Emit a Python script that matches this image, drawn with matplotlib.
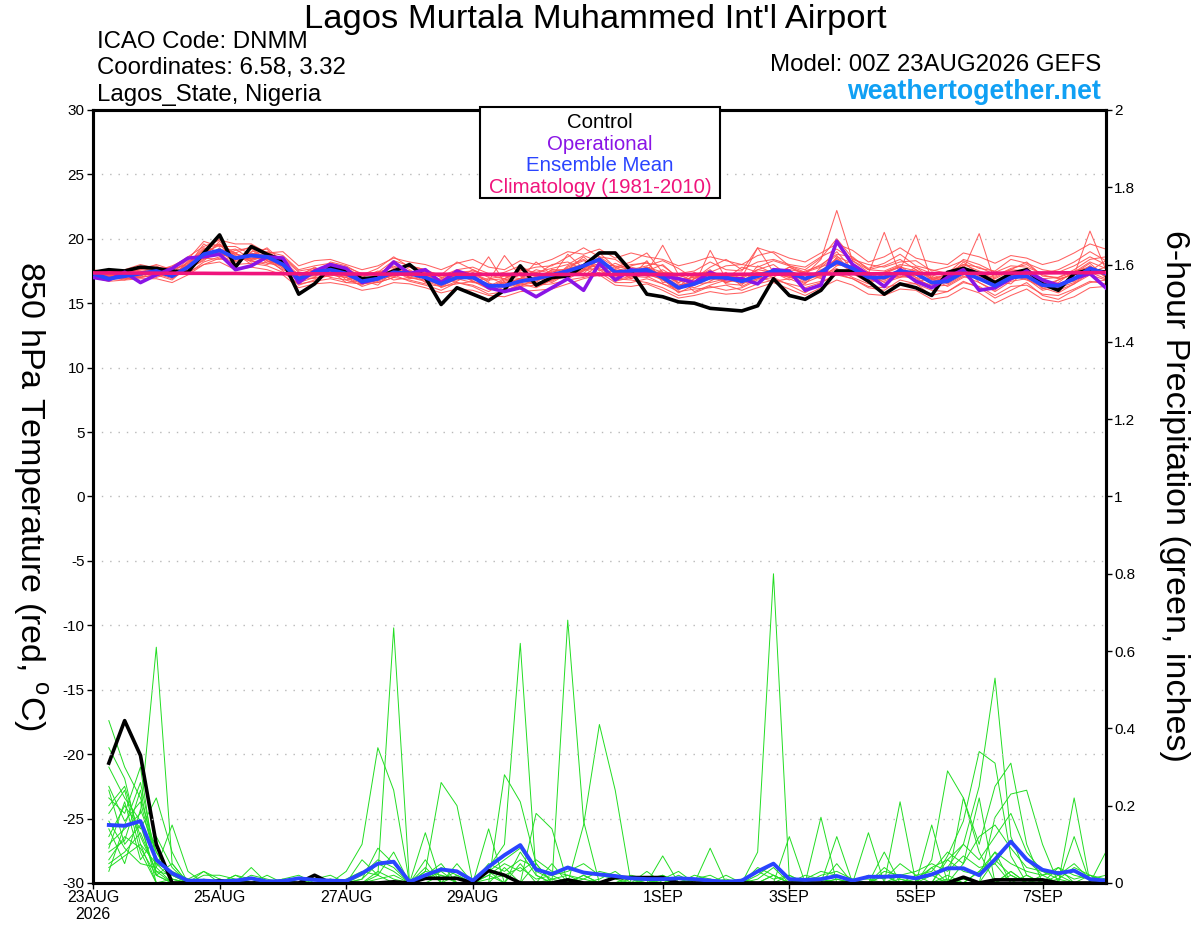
import numpy as np
import matplotlib
matplotlib.use("Agg")
import matplotlib.pyplot as plt
from matplotlib.patches import Rectangle

plt.rcParams['font.family'] = ['Liberation Sans', 'DejaVu Sans']
plt.rcParams['mathtext.fontset'] = 'custom'
plt.rcParams['mathtext.rm'] = 'Liberation Sans'
plt.rcParams['axes.unicode_minus'] = False

# forecast hours, 6-hourly out to 384 h
hours = np.arange(65) * 6
precip_hours = hours[1:]

tick_hours = [0, 48, 96, 144, 216, 264, 312, 360]
tick_labels = ['23AUG\n2026', '25AUG', '27AUG', '29AUG', '1SEP', '3SEP', '5SEP', '7SEP']

# 850 hPa temperature (C)
control_t = [17.4, 17.6, 17.5, 17.8, 17.7, 17.5, 17.4, 18.9, 20.3, 17.8, 19.4, 18.8, 18.3,
             15.7, 16.5, 17.8, 17.5, 16.9, 17.0, 17.5, 18.0, 17.0, 14.9, 16.2, 15.7, 15.2,
             16.0, 17.9, 16.4, 17.0, 17.1, 17.9, 18.9, 18.9, 17.5, 15.7, 15.5, 15.1, 15.0,
             14.6, 14.5, 14.4, 14.8, 16.9, 15.6, 15.3, 16.0, 17.5, 17.5, 16.7, 15.7, 16.5,
             16.2, 15.6, 17.4, 17.7, 17.3, 16.6, 17.3, 17.6, 16.5, 16.0, 17.3, 17.6, 17.4]
oper_t = [17.0, 16.8, 17.4, 16.6, 17.2, 17.7, 18.5, 18.6, 18.8, 17.6, 17.9, 18.6, 18.5,
          16.6, 17.5, 18.0, 17.7, 16.6, 16.9, 18.2, 17.3, 17.6, 16.6, 17.5, 17.1, 16.2,
          15.9, 16.2, 15.5, 16.2, 16.9, 16.0, 18.1, 16.8, 17.6, 17.4, 17.1, 16.9, 16.6,
          17.4, 16.9, 16.9, 16.5, 17.6, 17.5, 16.0, 16.4, 19.8, 18.0, 17.2, 16.3, 17.6,
          16.7, 16.2, 17.0, 17.6, 16.0, 16.2, 16.9, 17.5, 16.8, 16.4, 16.9, 17.3, 16.2]
mean_t = [17.3, 16.9, 17.1, 17.3, 17.5, 17.1, 17.8, 18.8, 19.1, 18.5, 18.7, 18.6, 18.0,
          16.9, 17.4, 17.6, 17.3, 16.7, 16.9, 17.4, 17.3, 17.0, 16.5, 17.0, 17.0, 16.35,
          16.35, 16.7, 16.9, 17.2, 17.5, 17.9, 18.4, 17.4, 17.5, 17.6, 17.0, 16.2, 16.5,
          17.0, 17.0, 16.7, 17.1, 17.5, 17.4, 16.9, 17.4, 18.2, 17.7, 17.0, 17.0, 17.5,
          17.3, 16.6, 16.7, 17.4, 16.9, 16.35, 17.0, 17.1, 16.4, 16.35, 16.9, 17.7, 17.3]
clim_t = [17.35, 17.35, 17.34, 17.34, 17.33, 17.33, 17.32, 17.32, 17.31, 17.31, 17.30, 17.30, 17.29,
          17.29, 17.28, 17.28, 17.27, 17.27, 17.26, 17.26, 17.26, 17.25, 17.25, 17.25, 17.24, 17.24,
          17.24, 17.24, 17.23, 17.23, 17.23, 17.23, 17.23, 17.23, 17.23, 17.23, 17.23, 17.23, 17.24,
          17.24, 17.24, 17.25, 17.25, 17.25, 17.26, 17.26, 17.27, 17.27, 17.28, 17.28, 17.29, 17.29,
          17.30, 17.30, 17.31, 17.32, 17.32, 17.33, 17.34, 17.34, 17.35, 17.36, 17.36, 17.37, 17.38]

members_t = [
    [17.2, 17.0, 17.3, 17.6, 17.4, 17.2, 18.0, 19.2, 19.6, 18.2, 18.9, 18.3, 17.6,
     17.1, 17.8, 17.2, 17.0, 16.5, 17.3, 17.9, 17.0, 16.8, 16.9, 17.5, 16.7, 16.2,
     16.8, 17.2, 17.4, 16.9, 17.8, 18.3, 17.9, 17.1, 17.9, 18.2, 16.8, 16.0, 16.9,
     17.5, 16.6, 17.0, 17.6, 18.0, 17.1, 16.5, 17.8, 18.7, 17.3, 16.6, 17.4, 17.9,
     17.0, 16.2, 17.1, 17.9, 16.6, 16.0, 17.4, 17.5, 16.1, 16.8, 17.3, 18.1, 17.0],
    [17.4, 16.8, 17.0, 17.1, 17.8, 17.5, 17.6, 18.4, 19.0, 19.2, 18.4, 18.9, 18.4,
     16.6, 17.0, 18.0, 17.6, 16.9, 16.6, 17.0, 17.8, 17.3, 16.2, 16.7, 17.4, 16.6,
     16.0, 16.4, 16.6, 17.5, 17.2, 17.6, 18.9, 17.8, 17.2, 17.3, 17.4, 16.5, 16.2,
     16.7, 17.4, 16.3, 16.9, 17.2, 17.8, 17.3, 16.9, 17.9, 18.3, 17.4, 16.6, 17.0,
     17.8, 16.9, 16.3, 17.0, 17.3, 16.7, 16.5, 17.6, 16.8, 16.0, 16.5, 17.4, 17.8],
    [17.1, 17.2, 16.9, 17.0, 17.2, 16.8, 17.9, 19.6, 18.8, 18.0, 19.0, 19.2, 17.8,
     17.3, 17.6, 17.0, 16.8, 17.2, 17.4, 16.8, 17.0, 17.5, 17.0, 16.6, 16.4, 15.9,
     16.7, 17.2, 16.3, 16.8, 17.9, 18.4, 17.6, 16.8, 17.1, 17.0, 17.6, 16.9, 15.9,
     16.4, 16.8, 17.2, 17.0, 16.7, 16.9, 16.4, 16.7, 18.6, 18.1, 17.2, 16.4, 17.3,
     16.8, 16.4, 17.2, 17.6, 17.1, 16.3, 16.8, 17.3, 16.7, 16.2, 16.6, 17.5, 18.3],
    [17.5, 17.1, 17.4, 17.3, 17.6, 17.0, 18.3, 18.6, 19.8, 18.7, 18.3, 18.0, 18.5,
     17.4, 17.1, 17.9, 16.8, 16.4, 17.2, 17.6, 17.5, 16.6, 16.8, 16.9, 17.6, 17.0,
     16.5, 16.9, 17.6, 17.3, 16.9, 17.5, 18.4, 16.7, 17.0, 18.3, 16.6, 16.8, 17.0,
     17.6, 16.5, 16.4, 17.9, 17.3, 17.0, 17.5, 17.9, 19.0, 17.6, 17.4, 16.8, 17.6,
     17.4, 17.1, 16.5, 17.2, 17.4, 16.7, 17.2, 16.8, 16.3, 16.6, 17.5, 17.8, 17.2],
    [17.0, 17.3, 17.2, 17.5, 17.1, 17.4, 17.5, 18.9, 18.7, 19.1, 19.3, 18.3, 17.9,
     16.8, 17.5, 17.3, 17.6, 16.8, 16.4, 17.5, 16.9, 17.1, 16.5, 17.2, 16.9, 16.5,
     16.2, 16.5, 16.7, 17.6, 17.4, 17.1, 18.0, 17.9, 17.6, 17.2, 16.9, 15.8, 16.4,
     16.9, 17.2, 16.9, 16.6, 17.7, 17.5, 16.8, 17.2, 17.7, 17.0, 16.5, 17.1, 17.0,
     17.2, 16.5, 16.9, 17.5, 16.9, 16.2, 17.1, 16.9, 16.0, 16.3, 16.9, 17.4, 16.9],
    [17.3, 16.9, 17.2, 17.4, 17.3, 17.6, 18.0, 19.1, 20.0, 18.4, 18.5, 18.8, 18.1,
     17.0, 17.3, 17.8, 17.1, 17.0, 17.5, 17.1, 17.6, 16.9, 16.6, 17.3, 16.8, 16.9,
     17.1, 16.9, 18.2, 17.2, 17.6, 18.6, 17.5, 18.1, 17.6, 17.4, 19.5, 17.2, 16.7,
     17.3, 16.9, 17.8, 17.4, 17.0, 17.8, 17.2, 18.4, 22.2, 18.3, 17.6, 17.9, 18.4,
     17.6, 16.8, 17.3, 18.0, 17.5, 17.1, 17.7, 18.0, 17.2, 16.9, 17.2, 20.6, 17.6],
    [17.4, 17.2, 17.0, 17.2, 17.3, 16.9, 17.7, 18.3, 19.3, 18.0, 18.9, 18.5, 17.5,
     16.4, 16.8, 17.2, 17.0, 16.3, 16.7, 17.2, 16.7, 16.4, 16.0, 16.6, 16.3, 15.7,
     15.9, 16.5, 16.2, 16.8, 17.1, 17.5, 18.1, 16.9, 16.8, 16.6, 16.2, 15.6, 15.8,
     16.3, 16.0, 16.2, 16.8, 17.0, 16.4, 15.8, 16.6, 17.3, 16.9, 16.2, 16.0, 16.8,
     16.5, 15.6, 15.9, 16.7, 16.2, 15.4, 16.0, 16.6, 15.6, 15.3, 16.0, 16.6, 16.8],
    [17.2, 17.0, 17.5, 17.8, 17.9, 17.3, 18.4, 19.8, 19.4, 19.4, 18.8, 19.0, 18.7,
     17.6, 17.9, 18.1, 17.8, 17.3, 17.4, 18.3, 17.9, 17.6, 17.1, 17.6, 17.8, 17.3,
     17.2, 17.5, 17.8, 17.9, 18.6, 19.3, 18.6, 17.8, 18.2, 18.9, 17.4, 17.3, 17.5,
     18.2, 17.6, 17.5, 19.3, 18.9, 17.9, 17.6, 18.5, 20.0, 18.5, 17.7, 18.1, 18.8,
     17.9, 17.6, 17.3, 18.4, 18.0, 17.4, 17.9, 17.8, 17.3, 17.6, 18.2, 19.0, 18.3],
    [17.3, 17.1, 17.1, 17.2, 17.5, 17.2, 17.3, 18.2, 18.6, 18.9, 18.0, 18.2, 18.2,
     16.9, 17.2, 17.4, 17.2, 16.6, 17.1, 17.3, 17.1, 17.4, 16.4, 16.9, 17.0, 16.3,
     16.6, 16.9, 17.0, 16.6, 17.3, 17.8, 18.3, 17.3, 17.4, 17.8, 17.1, 16.4, 16.6,
     17.1, 17.3, 16.6, 17.3, 17.4, 17.2, 16.9, 17.5, 18.0, 17.8, 16.9, 16.7, 17.3,
     17.3, 16.5, 16.6, 17.4, 17.0, 16.5, 16.9, 17.2, 16.6, 16.4, 16.8, 17.6, 17.5],
    [17.1, 16.8, 17.3, 17.0, 17.5, 17.3, 17.6, 18.7, 18.9, 18.3, 19.2, 18.1, 17.9,
     17.2, 17.4, 17.5, 16.6, 16.8, 16.8, 17.7, 17.2, 17.1, 16.7, 16.8, 17.1, 16.4,
     16.3, 16.6, 17.0, 17.1, 18.8, 17.7, 17.1, 17.6, 16.9, 17.6, 17.3, 16.6, 17.4,
     16.8, 17.0, 17.2, 17.1, 17.5, 17.0, 17.0, 17.2, 18.2, 17.4, 17.3, 20.5, 17.2,
     17.6, 16.9, 17.2, 17.6, 20.4, 16.6, 16.9, 17.7, 16.9, 16.2, 17.2, 17.9, 17.1],
    [17.2, 17.1, 17.2, 17.4, 17.0, 17.4, 17.9, 18.5, 18.4, 18.6, 18.7, 19.3, 18.2,
     17.0, 17.6, 17.7, 17.3, 16.7, 17.0, 17.1, 17.4, 16.9, 16.8, 17.0, 17.3, 16.8,
     16.9, 16.3, 16.9, 17.0, 17.5, 17.3, 18.5, 17.2, 17.3, 17.5, 17.1, 16.3, 17.2,
     17.0, 16.7, 16.8, 17.3, 17.6, 17.3, 16.7, 17.6, 18.0, 17.9, 16.9, 17.2, 17.5,
     17.0, 16.7, 16.9, 17.3, 16.8, 16.6, 17.3, 17.2, 16.5, 16.5, 16.7, 17.9, 17.0],
    [17.4, 17.0, 17.0, 17.4, 17.6, 17.0, 18.2, 18.9, 19.5, 18.6, 18.4, 18.6, 17.7,
     16.9, 17.5, 17.6, 17.5, 16.9, 17.0, 17.5, 17.3, 17.2, 16.7, 17.2, 16.9, 18.6,
     16.6, 16.8, 17.0, 17.4, 17.7, 18.0, 18.2, 17.5, 17.8, 17.5, 18.0, 16.9, 16.4,
     19.1, 16.9, 17.0, 19.3, 17.4, 17.5, 17.0, 17.5, 18.5, 17.5, 17.1, 17.0, 17.6,
     20.3, 16.8, 17.0, 18.2, 17.2, 16.9, 17.5, 17.6, 16.8, 16.4, 16.8, 17.7, 17.4],
    [17.3, 17.2, 17.3, 17.1, 17.7, 17.1, 17.4, 19.0, 18.9, 18.4, 18.5, 18.4, 18.3,
     17.2, 17.0, 17.1, 17.4, 16.9, 16.9, 17.6, 17.0, 16.7, 16.3, 16.9, 16.6, 16.5,
     16.4, 16.6, 17.1, 17.3, 17.0, 17.6, 17.7, 17.0, 17.5, 17.1, 16.5, 16.1, 16.5,
     16.6, 16.9, 16.5, 16.9, 17.2, 17.1, 16.6, 17.1, 17.6, 17.5, 16.8, 16.9, 17.1,
     16.9, 16.3, 16.4, 17.1, 16.6, 15.9, 16.7, 16.9, 16.2, 15.8, 16.5, 17.2, 16.8],
    [17.1, 17.0, 16.8, 17.3, 17.2, 17.2, 17.7, 18.5, 19.2, 18.9, 18.2, 18.4, 18.0,
     17.1, 17.3, 17.4, 17.2, 16.9, 17.1, 18.2, 17.4, 17.3, 16.6, 17.4, 17.2, 16.7,
     18.7, 17.1, 16.9, 17.6, 17.6, 18.0, 17.3, 17.6, 17.4, 17.8, 17.4, 16.6, 17.1,
     16.9, 17.3, 17.1, 17.4, 17.3, 17.6, 17.4, 17.8, 18.3, 17.8, 17.2, 17.4, 17.8,
     17.5, 17.2, 16.8, 17.7, 17.3, 17.0, 17.6, 17.5, 16.9, 17.0, 17.4, 18.2, 17.7],
    [17.6, 17.4, 17.6, 18.0, 17.7, 17.8, 18.6, 19.4, 19.9, 19.6, 19.6, 18.9, 19.0,
     17.9, 18.3, 18.4, 18.0, 17.6, 17.9, 18.5, 18.2, 18.0, 17.6, 18.1, 18.4, 17.8,
     17.6, 18.3, 18.0, 18.4, 19.0, 18.8, 19.2, 18.5, 18.9, 18.6, 18.4, 17.9, 18.2,
     18.6, 18.3, 18.0, 18.7, 19.0, 18.5, 18.2, 18.9, 19.6, 19.1, 18.2, 18.6, 19.3,
     18.5, 18.2, 18.0, 18.9, 18.6, 18.1, 18.7, 18.5, 18.0, 18.3, 18.9, 19.6, 19.2],
    [17.0, 16.7, 16.8, 16.9, 16.9, 16.6, 17.2, 18.0, 18.2, 17.6, 17.8, 17.6, 17.2,
     16.2, 16.5, 16.6, 16.4, 16.0, 16.2, 16.6, 16.5, 16.2, 15.8, 16.1, 16.0, 15.6,
     15.5, 15.9, 16.0, 16.1, 16.5, 16.9, 17.2, 16.4, 16.3, 16.5, 16.0, 15.4, 15.6,
     15.9, 15.7, 15.8, 16.2, 16.6, 16.1, 15.6, 16.2, 16.8, 16.4, 15.7, 15.6, 16.1,
     16.0, 15.3, 15.5, 16.2, 15.8, 15.0, 15.6, 16.1, 15.3, 15.1, 15.5, 16.2, 16.3],
    [17.2, 16.9, 17.4, 17.6, 18.0, 17.6, 18.1, 19.3, 19.0, 18.8, 18.6, 18.9, 17.8,
     16.7, 17.3, 18.2, 17.9, 17.2, 17.7, 18.6, 17.8, 17.5, 17.2, 18.2, 17.6, 17.1,
     17.4, 17.9, 17.2, 18.0, 18.2, 17.6, 18.6, 18.4, 17.6, 17.9, 18.3, 17.7, 16.9,
     17.8, 18.4, 17.6, 18.2, 18.4, 18.0, 17.8, 18.6, 19.2, 18.4, 18.0, 17.8, 18.2,
     18.3, 17.5, 17.8, 18.3, 17.7, 17.5, 18.4, 18.1, 17.6, 17.4, 17.9, 18.6, 18.0],
    [16.9, 17.1, 16.9, 17.0, 17.2, 17.2, 17.4, 18.0, 18.5, 18.0, 18.1, 17.9, 17.4,
     16.5, 16.7, 16.9, 16.6, 16.5, 16.6, 17.0, 16.8, 16.5, 16.3, 16.5, 16.7, 16.1,
     16.0, 16.3, 16.4, 16.5, 16.8, 17.0, 17.4, 16.6, 16.6, 16.9, 16.5, 15.9, 16.1,
     16.2, 16.4, 16.0, 16.5, 16.8, 16.5, 16.2, 16.6, 17.2, 16.9, 16.3, 16.2, 16.5,
     16.5, 16.0, 15.9, 16.6, 16.3, 15.6, 16.3, 16.4, 15.7, 15.6, 16.1, 16.7, 16.5],
    [17.5, 17.3, 17.3, 17.7, 17.5, 17.9, 18.5, 18.8, 19.6, 18.9, 19.4, 18.7, 18.6,
     17.5, 17.7, 17.6, 17.7, 17.1, 17.4, 17.8, 17.9, 17.6, 17.0, 17.4, 17.5, 17.2,
     16.9, 17.6, 17.4, 17.7, 18.0, 18.7, 18.2, 17.7, 18.0, 18.1, 17.9, 17.0, 17.3,
     17.4, 17.9, 18.0, 17.8, 18.3, 17.9, 17.4, 18.0, 18.8, 18.6, 17.6, 17.5, 18.0,
     17.8, 17.3, 17.4, 18.0, 17.8, 17.2, 17.6, 18.2, 17.1, 17.0, 17.6, 18.4, 18.6],
    [17.1, 17.2, 17.1, 17.3, 17.4, 17.0, 17.6, 18.6, 19.1, 18.5, 18.3, 18.7, 18.1,
     17.0, 16.9, 17.3, 17.1, 16.6, 16.8, 17.4, 17.5, 16.8, 16.4, 17.3, 16.7, 16.3,
     16.9, 17.4, 17.1, 16.7, 17.5, 17.9, 17.8, 17.6, 16.9, 17.3, 16.8, 16.2, 16.9,
     17.3, 16.6, 16.9, 17.6, 17.4, 16.8, 17.3, 17.0, 18.4, 17.6, 16.6, 17.3, 17.8,
     16.6, 17.0, 16.7, 17.8, 17.2, 16.4, 17.4, 17.0, 16.4, 16.8, 17.3, 17.4, 17.5],
]

# 6-hour precipitation (inches), starting at +6 h
control_p = [0.31, 0.42, 0.33, 0.10, 0.0, 0.0, 0.0, 0.006, 0.0, 0.0, 0.0, 0.0, 0.0, 0.02, 0.0, 0.0,
             0.0, 0.0, 0.003, 0.0, 0.012, 0.012, 0.012, 0.0, 0.032, 0.02, 0.0, 0.0, 0.0, 0.008, 0.0, 0.0,
             0.014, 0.014, 0.014, 0.014, 0.0, 0.0, 0.0, 0.0, 0.0, 0.0, 0.0, 0.0, 0.0, 0.0, 0.0, 0.0,
             0.0, 0.0, 0.0, 0.0, 0.0, 0.0, 0.015, 0.0, 0.008, 0.008, 0.008, 0.008, 0.0, 0.0, 0.0, 0.0]
mean_p = [0.15, 0.148, 0.16, 0.06, 0.025, 0.006, 0.006, 0.004, 0.006, 0.012, 0.004, 0.005, 0.012, 0.008, 0.006, 0.005,
          0.025, 0.05, 0.055, 0.003, 0.02, 0.035, 0.03, 0.006, 0.042, 0.072, 0.098, 0.035, 0.023, 0.04, 0.027, 0.022,
          0.018, 0.012, 0.01, 0.01, 0.012, 0.01, 0.006, 0.003, 0.006, 0.03, 0.05, 0.01, 0.008, 0.01, 0.018, 0.006,
          0.016, 0.016, 0.018, 0.012, 0.022, 0.038, 0.038, 0.02, 0.061, 0.107, 0.061, 0.034, 0.025, 0.032, 0.01, 0.006]

members_p = [
    [0.10, 0.14, 0.18, 0.61, 0.05, 0.0, 0.01, 0.0, 0.02, 0.0, 0.0, 0.01, 0.0, 0.0, 0.0, 0.0,
     0.0, 0.02, 0.0, 0.0, 0.01, 0.03, 0.0, 0.0, 0.02, 0.0, 0.05, 0.0, 0.01, 0.0, 0.02, 0.0,
     0.0, 0.01, 0.0, 0.0, 0.02, 0.0, 0.0, 0.0, 0.01, 0.0, 0.0, 0.02, 0.0, 0.0, 0.01, 0.0,
     0.0, 0.02, 0.0, 0.0, 0.04, 0.0, 0.01, 0.0, 0.06, 0.02, 0.0, 0.01, 0.0, 0.0, 0.02, 0.0],
    [0.42, 0.30, 0.22, 0.08, 0.01, 0.0, 0.0, 0.0, 0.0, 0.0, 0.0, 0.0, 0.0, 0.0, 0.01, 0.0,
     0.06, 0.02, 0.66, 0.0, 0.02, 0.05, 0.0, 0.0, 0.03, 0.0, 0.08, 0.02, 0.0, 0.01, 0.0, 0.0,
     0.0, 0.0, 0.0, 0.0, 0.0, 0.0, 0.01, 0.0, 0.0, 0.0, 0.02, 0.0, 0.0, 0.0, 0.0, 0.0,
     0.0, 0.0, 0.0, 0.02, 0.0, 0.01, 0.0, 0.03, 0.05, 0.0, 0.02, 0.0, 0.01, 0.0, 0.0, 0.0],
    [0.20, 0.25, 0.12, 0.03, 0.02, 0.0, 0.03, 0.0, 0.0, 0.01, 0.0, 0.0, 0.0, 0.0, 0.0, 0.0,
     0.01, 0.05, 0.03, 0.0, 0.06, 0.0, 0.05, 0.0, 0.04, 0.10, 0.62, 0.02, 0.0, 0.0, 0.0, 0.0,
     0.0, 0.0, 0.0, 0.02, 0.0, 0.0, 0.0, 0.0, 0.0, 0.0, 0.0, 0.0, 0.0, 0.01, 0.0, 0.0,
     0.0, 0.0, 0.01, 0.0, 0.0, 0.02, 0.0, 0.0, 0.0, 0.03, 0.0, 0.0, 0.02, 0.0, 0.0, 0.01],
    [0.16, 0.09, 0.05, 0.04, 0.15, 0.03, 0.0, 0.0, 0.0, 0.0, 0.0, 0.0, 0.0, 0.0, 0.0, 0.0,
     0.0, 0.03, 0.01, 0.0, 0.0, 0.02, 0.0, 0.0, 0.0, 0.04, 0.0, 0.05, 0.0, 0.68, 0.16, 0.0,
     0.0, 0.0, 0.03, 0.0, 0.0, 0.0, 0.0, 0.0, 0.0, 0.0, 0.0, 0.0, 0.0, 0.0, 0.0, 0.0,
     0.0, 0.0, 0.0, 0.0, 0.02, 0.0, 0.0, 0.0, 0.0, 0.03, 0.0, 0.0, 0.04, 0.0, 0.0, 0.0],
    [0.06, 0.12, 0.09, 0.02, 0.0, 0.0, 0.0, 0.0, 0.0, 0.0, 0.0, 0.0, 0.0, 0.0, 0.0, 0.0,
     0.0, 0.0, 0.0, 0.0, 0.0, 0.0, 0.0, 0.0, 0.0, 0.0, 0.0, 0.0, 0.05, 0.0, 0.15, 0.41,
     0.24, 0.0, 0.0, 0.01, 0.0, 0.0, 0.0, 0.0, 0.0, 0.0, 0.02, 0.0, 0.0, 0.0, 0.0, 0.0,
     0.0, 0.0, 0.0, 0.0, 0.0, 0.0, 0.0, 0.03, 0.08, 0.0, 0.0, 0.02, 0.0, 0.0, 0.0, 0.0],
    [0.04, 0.07, 0.10, 0.0, 0.0, 0.0, 0.0, 0.0, 0.0, 0.0, 0.0, 0.0, 0.0, 0.0, 0.0, 0.0,
     0.0, 0.0, 0.0, 0.0, 0.0, 0.0, 0.0, 0.0, 0.0, 0.0, 0.0, 0.0, 0.0, 0.0, 0.02, 0.0,
     0.0, 0.0, 0.0, 0.01, 0.0, 0.0, 0.0, 0.0, 0.0, 0.08, 0.80, 0.01, 0.0, 0.0, 0.0, 0.0,
     0.0, 0.0, 0.0, 0.0, 0.0, 0.0, 0.0, 0.0, 0.0, 0.02, 0.0, 0.0, 0.0, 0.0, 0.0, 0.0],
    [0.22, 0.18, 0.30, 0.02, 0.0, 0.0, 0.0, 0.0, 0.0, 0.0, 0.0, 0.0, 0.0, 0.0, 0.0, 0.0,
     0.0, 0.0, 0.0, 0.0, 0.0, 0.0, 0.0, 0.0, 0.0, 0.0, 0.0, 0.0, 0.0, 0.0, 0.0, 0.0,
     0.0, 0.0, 0.0, 0.0, 0.0, 0.0, 0.0, 0.0, 0.0, 0.0, 0.0, 0.0, 0.0, 0.0, 0.0, 0.0,
     0.0, 0.0, 0.0, 0.0, 0.0, 0.06, 0.10, 0.25, 0.53, 0.12, 0.02, 0.0, 0.0, 0.0, 0.0, 0.0],
    [0.12, 0.20, 0.14, 0.22, 0.08, 0.0, 0.0, 0.0, 0.0, 0.0, 0.0, 0.0, 0.0, 0.0, 0.0, 0.03,
     0.10, 0.35, 0.24, 0.0, 0.0, 0.0, 0.0, 0.0, 0.0, 0.0, 0.0, 0.0, 0.0, 0.0, 0.0, 0.0,
     0.0, 0.0, 0.0, 0.0, 0.0, 0.0, 0.0, 0.0, 0.0, 0.0, 0.0, 0.0, 0.0, 0.0, 0.0, 0.0,
     0.0, 0.0, 0.0, 0.0, 0.0, 0.07, 0.16, 0.34, 0.31, 0.07, 0.0, 0.0, 0.0, 0.0, 0.0, 0.0],
    [0.25, 0.16, 0.21, 0.05, 0.01, 0.0, 0.0, 0.0, 0.0, 0.0, 0.0, 0.0, 0.0, 0.0, 0.0, 0.0,
     0.0, 0.0, 0.0, 0.0, 0.03, 0.26, 0.20, 0.0, 0.0, 0.0, 0.0, 0.0, 0.0, 0.0, 0.0, 0.0,
     0.0, 0.0, 0.0, 0.0, 0.0, 0.0, 0.0, 0.0, 0.0, 0.0, 0.0, 0.0, 0.0, 0.0, 0.05, 0.0,
     0.0, 0.04, 0.01, 0.0, 0.0, 0.0, 0.0, 0.0, 0.0, 0.0, 0.0, 0.0, 0.0, 0.0, 0.0, 0.0],
    [0.18, 0.24, 0.08, 0.0, 0.01, 0.0, 0.0, 0.0, 0.0, 0.0, 0.0, 0.0, 0.0, 0.0, 0.0, 0.0,
     0.0, 0.0, 0.0, 0.0, 0.0, 0.0, 0.0, 0.0, 0.0, 0.28, 0.21, 0.05, 0.0, 0.0, 0.0, 0.0,
     0.0, 0.0, 0.0, 0.0, 0.0, 0.0, 0.0, 0.0, 0.0, 0.0, 0.0, 0.0, 0.0, 0.0, 0.0, 0.0,
     0.0, 0.0, 0.0, 0.0, 0.06, 0.29, 0.22, 0.08, 0.0, 0.0, 0.0, 0.0, 0.0, 0.0, 0.0, 0.0],
    [0.08, 0.11, 0.24, 0.04, 0.0, 0.0, 0.0, 0.0, 0.0, 0.04, 0.0, 0.0, 0.0, 0.0, 0.0, 0.0,
     0.0, 0.0, 0.0, 0.0, 0.0, 0.0, 0.0, 0.0, 0.0, 0.0, 0.0, 0.0, 0.0, 0.0, 0.0, 0.0,
     0.0, 0.0, 0.0, 0.0, 0.0, 0.0, 0.0, 0.0, 0.0, 0.0, 0.0, 0.0, 0.0, 0.17, 0.0, 0.0,
     0.0, 0.0, 0.21, 0.0, 0.0, 0.0, 0.05, 0.22, 0.0, 0.0, 0.0, 0.0, 0.0, 0.22, 0.0, 0.0],
    [0.30, 0.22, 0.16, 0.0, 0.0, 0.0, 0.0, 0.0, 0.0, 0.0, 0.0, 0.0, 0.0, 0.0, 0.0, 0.0,
     0.0, 0.0, 0.0, 0.0, 0.0, 0.0, 0.0, 0.0, 0.0, 0.0, 0.0, 0.0, 0.0, 0.0, 0.0, 0.0,
     0.0, 0.0, 0.0, 0.0, 0.0, 0.0, 0.0, 0.0, 0.0, 0.0, 0.0, 0.12, 0.0, 0.0, 0.0, 0.0,
     0.13, 0.0, 0.0, 0.0, 0.0, 0.0, 0.0, 0.0, 0.17, 0.23, 0.24, 0.10, 0.0, 0.0, 0.0, 0.0],
    [0.05, 0.08, 0.13, 0.03, 0.0, 0.0, 0.0, 0.0, 0.0, 0.0, 0.0, 0.0, 0.0, 0.0, 0.0, 0.0,
     0.0, 0.0, 0.0, 0.0, 0.0, 0.0, 0.0, 0.0, 0.0, 0.0, 0.0, 0.0, 0.0, 0.0, 0.0, 0.0,
     0.0, 0.0, 0.0, 0.07, 0.0, 0.0, 0.09, 0.0, 0.0, 0.0, 0.0, 0.0, 0.0, 0.0, 0.0, 0.0,
     0.0, 0.0, 0.0, 0.0, 0.15, 0.0, 0.22, 0.10, 0.25, 0.31, 0.10, 0.0, 0.0, 0.0, 0.0, 0.08],
    [0.03, 0.15, 0.26, 0.06, 0.02, 0.0, 0.0, 0.0, 0.0, 0.0, 0.0, 0.0, 0.0, 0.0, 0.0, 0.0,
     0.0, 0.0, 0.0, 0.0, 0.13, 0.0, 0.0, 0.0, 0.14, 0.0, 0.0, 0.18, 0.14, 0.0, 0.0, 0.0,
     0.0, 0.0, 0.0, 0.0, 0.0, 0.0, 0.0, 0.0, 0.0, 0.0, 0.0, 0.0, 0.0, 0.0, 0.12, 0.0,
     0.0, 0.08, 0.0, 0.0, 0.0, 0.0, 0.0, 0.0, 0.0, 0.0, 0.0, 0.0, 0.0, 0.12, 0.0, 0.0],
    [0.14, 0.05, 0.19, 0.08, 0.02, 0.01, 0.03, 0.01, 0.0, 0.02, 0.01, 0.0, 0.0, 0.01, 0.02, 0.0,
     0.02, 0.06, 0.04, 0.0, 0.03, 0.02, 0.01, 0.0, 0.05, 0.03, 0.06, 0.04, 0.02, 0.03, 0.05, 0.02,
     0.01, 0.0, 0.01, 0.02, 0.0, 0.01, 0.02, 0.0, 0.0, 0.03, 0.01, 0.02, 0.0, 0.02, 0.03, 0.01,
     0.0, 0.03, 0.02, 0.01, 0.04, 0.06, 0.03, 0.02, 0.08, 0.05, 0.03, 0.02, 0.03, 0.01, 0.02, 0.01],
    [0.09, 0.21, 0.06, 0.12, 0.04, 0.0, 0.02, 0.02, 0.01, 0.0, 0.0, 0.01, 0.02, 0.0, 0.0, 0.01,
     0.03, 0.02, 0.08, 0.0, 0.01, 0.04, 0.02, 0.0, 0.02, 0.05, 0.03, 0.06, 0.03, 0.02, 0.01, 0.03,
     0.02, 0.01, 0.0, 0.01, 0.03, 0.0, 0.0, 0.01, 0.0, 0.04, 0.02, 0.0, 0.01, 0.03, 0.02, 0.0,
     0.02, 0.01, 0.05, 0.02, 0.03, 0.08, 0.05, 0.12, 0.15, 0.09, 0.04, 0.03, 0.01, 0.04, 0.02, 0.0],
    [0.35, 0.27, 0.10, 0.05, 0.03, 0.01, 0.0, 0.0, 0.02, 0.01, 0.0, 0.0, 0.01, 0.0, 0.0, 0.0,
     0.01, 0.09, 0.05, 0.0, 0.02, 0.01, 0.03, 0.0, 0.01, 0.02, 0.04, 0.01, 0.02, 0.0, 0.01, 0.0,
     0.0, 0.02, 0.01, 0.0, 0.0, 0.02, 0.01, 0.0, 0.0, 0.01, 0.04, 0.0, 0.02, 0.01, 0.0, 0.01,
     0.01, 0.0, 0.02, 0.03, 0.05, 0.03, 0.07, 0.04, 0.05, 0.11, 0.06, 0.02, 0.04, 0.02, 0.01, 0.02],
    [0.24, 0.10, 0.15, 0.02, 0.05, 0.0, 0.0, 0.01, 0.0, 0.0, 0.02, 0.0, 0.0, 0.0, 0.01, 0.0,
     0.0, 0.01, 0.02, 0.0, 0.04, 0.0, 0.02, 0.0, 0.03, 0.06, 0.09, 0.03, 0.01, 0.02, 0.0, 0.01,
     0.03, 0.0, 0.0, 0.0, 0.01, 0.0, 0.0, 0.02, 0.0, 0.02, 0.05, 0.01, 0.0, 0.0, 0.01, 0.0,
     0.0, 0.02, 0.0, 0.01, 0.02, 0.04, 0.10, 0.06, 0.12, 0.18, 0.08, 0.03, 0.02, 0.05, 0.01, 0.0],
]

RED = '#ff5050'
GREEN = '#22dd22'
PURPLE = '#8a14e6'
BLUE = '#2a44ff'
PINK = '#f0147c'

fig = plt.figure(figsize=(12, 9.27), dpi=100)
ax = fig.add_axes([0.0775, 0.0475, 0.844, 0.8339])
ax2 = ax.twinx()

# temperature spaghetti
for m in members_t:
    ax.plot(hours, m, color=RED, lw=0.75, alpha=0.9, zorder=2)
ax.plot(hours, control_t, color='black', lw=2.6, zorder=4)
ax.plot(hours, oper_t, color=PURPLE, lw=2.6, zorder=5)
ax.plot(hours, mean_t, color=BLUE, lw=2.8, zorder=6)
ax.plot(hours, clim_t, color=PINK, lw=2.6, zorder=7)

# precipitation on the right axis
for m in members_p:
    ax2.plot(precip_hours, m, color=GREEN, lw=0.7, zorder=2)
ax2.plot(precip_hours, control_p, color='black', lw=2.6, zorder=4)
ax2.plot(precip_hours, mean_p, color=BLUE, lw=2.8, zorder=5)

ax.set_xlim(0, 384)
ax.set_ylim(-30, 30)
ax2.set_ylim(0, 2)
ax.set_yticks(np.arange(-30, 31, 5))
ax2.set_yticks(np.arange(0, 2.01, 0.2))
ax2.set_yticklabels(['%g' % v for v in np.arange(0, 2.01, 0.2).round(1)])
ax.set_xticks(tick_hours)
ax.set_xticklabels(tick_labels)

for g in np.arange(-25, 30, 5):
    ax.axhline(g, color='#b8b8b8', lw=1.0, ls=(0, (1, 5)), zorder=1)

for a in (ax, ax2):
    a.tick_params(direction='out', length=4, width=1, labelsize=11, pad=2)
    for s in a.spines.values():
        s.set_linewidth(2.2)
ax.tick_params(axis='x', labelsize=11.5, pad=1)
ax.set_zorder(ax2.get_zorder() + 1)
ax.patch.set_visible(False)

# headings
fig.text(0.496, 0.979, "Lagos Murtala Muhammed Int'l Airport", ha='center', va='center', fontsize=24.8)
fig.text(0.081, 0.955, 'ICAO Code: DNMM', ha='left', va='center', fontsize=17.3)
fig.text(0.081, 0.927, 'Coordinates: 6.58, 3.32', ha='left', va='center', fontsize=17.3)
fig.text(0.081, 0.898, 'Lagos_State, Nigeria', ha='left', va='center', fontsize=17.3)
fig.text(0.9175, 0.930, 'Model: 00Z 23AUG2026 GEFS', ha='right', va='center', fontsize=17.3)
fig.text(0.9175, 0.901, 'weathertogether.net', ha='right', va='center', fontsize=19.3,
         fontweight='bold', color='#10a0f4')

# legend box
fig.patches.append(Rectangle((0.4, 0.7865), 0.2, 0.0985, transform=fig.transFigure,
                             facecolor='white', edgecolor='black', lw=1.5, zorder=10))
legend_rows = [('Control', 'black'), ('Operational', PURPLE),
               ('Ensemble Mean', BLUE), ('Climatology (1981-2010)', PINK)]
for k, (txt, col) in enumerate(legend_rows):
    fig.text(0.5, 0.8675 - k * 0.0232, txt, ha='center', va='center', fontsize=14.7,
             color=col, zorder=11)

# axis titles, both reading downwards
fig.text(0.025, 0.465, r'850 hPa Temperature (red, $^{\mathrm{o}}$C)', rotation=270,
         ha='center', va='center', fontsize=24.5)
fig.text(0.979, 0.465, '6-hour Precipitation (green, inches)', rotation=270,
         ha='center', va='center', fontsize=24.5)

fig.savefig('out.png', dpi=100)
